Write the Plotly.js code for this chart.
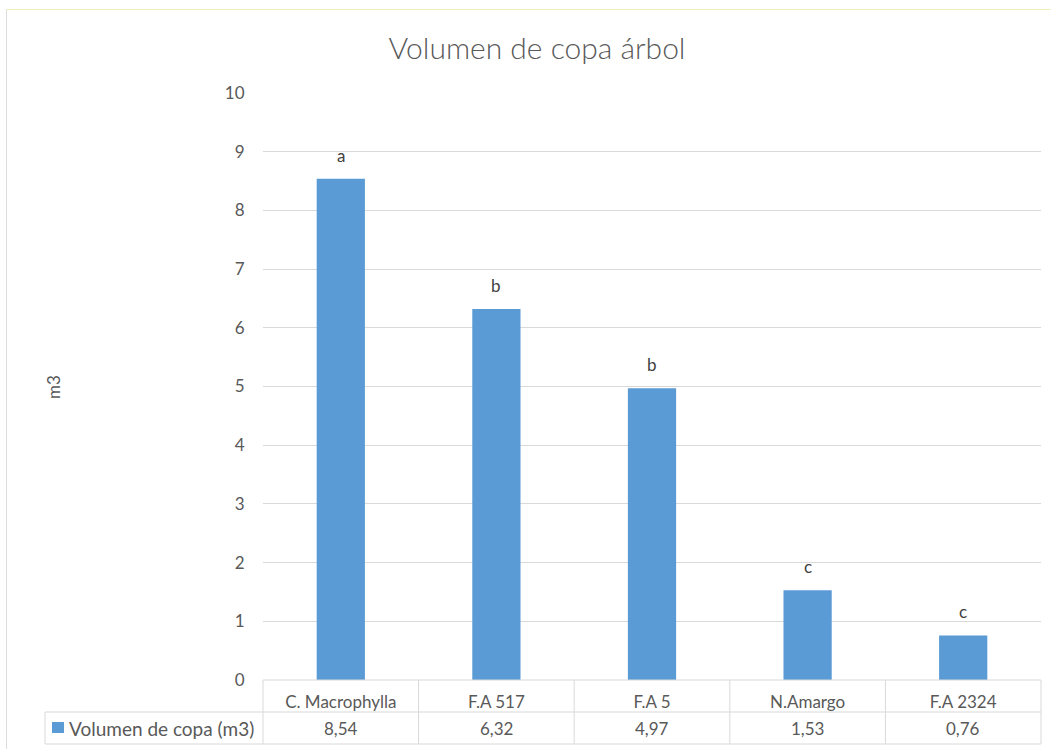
<!DOCTYPE html>
<html>
<head>
<meta charset="utf-8">
<script src="https://cdn.plot.ly/plotly-3.0.1.min.js"></script>
<style>
html,body{margin:0;padding:0;background:#fff;}
#chart{width:1051px;height:749px;}
</style>
</head>
<body>
<div id="chart"></div>
<script>
// ---- data ----
var categories = ["C. Macrophylla", "F.A 517", "F.A 5", "N.Amargo", "F.A 2324"];
var volumes = [8.54, 6.32, 4.97, 1.53, 0.76];
var valueLabels = ["8,54", "6,32", "4,97", "1,53", "0,76"];
var letters = ["a", "b", "b", "c", "c"];
var seriesName = "Volumen de copa (m3)";
var chartTitle = "Volumen de copa árbol";
var yTitle = "m3";
var yTicks = [0, 1, 2, 3, 4, 5, 6, 7, 8, 9, 10];

// ---- layout constants ----
var W = 1051, H = 749;
var mL = 263, mR = 10, mT = 93, mB = 69;
var plotW = W - mL - mR, plotH = H - mT - mB;
function px2paperX(px){ return (px - mL) / plotW; }
function px2paperY(py){ return (H - mB - py) / plotH; }

var FONT = "Lato, Carlito, Calibri, sans-serif";
var TXT = "#595959";
var GRID = "#d9d9d9";
var BAR = "#5b9bd5";

var trace = {
  type: "bar",
  x: categories,
  y: volumes,
  name: seriesName,
  marker: {color: BAR},
  width: 0.31,
  hoverinfo: "x+y"
};

var annotations = [];
// letters above bars
for (var i = 0; i < categories.length; i++) {
  annotations.push({
    x: categories[i], y: volumes[i], xref: "x", yref: "y",
    text: letters[i], showarrow: false, yanchor: "bottom", yshift: 11,
    font: {family: FONT, size: 17, color: "#404040"}
  });
}
// table value row
var rowTop = 712, rowBot = 744;
for (var j = 0; j < categories.length; j++) {
  annotations.push({
    x: categories[j], y: px2paperY((rowTop + rowBot) / 2), xref: "x", yref: "paper",
    text: valueLabels[j], showarrow: false, yanchor: "middle",
    font: {family: FONT, size: 17, color: TXT}
  });
}
// legend label in table
annotations.push({
  x: px2paperX(67), y: px2paperY((rowTop + rowBot) / 2), xref: "paper", yref: "paper",
  xanchor: "left", yanchor: "middle", showarrow: false,
  text: seriesName,
  font: {family: FONT, size: 19, color: TXT}
});
// y title
annotations.push({
  x: px2paperX(54), y: px2paperY(387), xref: "paper", yref: "paper",
  text: yTitle, textangle: -90, showarrow: false,
  xanchor: "center", yanchor: "middle",
  font: {family: FONT, size: 17, color: TXT}
});

var shapes = [];
function line(x0, y0, x1, y1, color) {
  shapes.push({type: "line", xref: "paper", yref: "paper",
    x0: px2paperX(x0), y0: px2paperY(y0), x1: px2paperX(x1), y1: px2paperY(y1),
    line: {color: color || GRID, width: 1}});
}
var xLeftTable = 45, xPlotL = mL, xPlotR = W - mR, yHead = H - mB;
// horizontal table lines
line(xPlotL, yHead, xPlotR, yHead);
line(xLeftTable, rowTop, xPlotR, rowTop);
line(xLeftTable, rowBot, xPlotR, rowBot);
// vertical table lines
line(xLeftTable, rowTop, xLeftTable, rowBot);
for (var k = 0; k <= categories.length; k++) {
  var xp = xPlotL + k * plotW / categories.length;
  line(xp, yHead, xp, rowBot);
}
// legend key square
shapes.push({type: "rect", xref: "paper", yref: "paper",
  x0: px2paperX(52), x1: px2paperX(64), y0: px2paperY(733), y1: px2paperY(722),
  fillcolor: BAR, line: {width: 0}});
// outer chart border
line(6.5, 9.5, W, 9.5, "#efefb8");
line(6.5, 9.5, 6.5, H, "#dcdcd8");

var layout = {
  width: W, height: H,
  margin: {l: mL, r: mR, t: mT, b: mB, pad: 0},
  paper_bgcolor: "#ffffff",
  plot_bgcolor: "#ffffff",
  showlegend: false,
  title: {
    text: chartTitle,
    x: px2paperX(537), xref: "paper", xanchor: "center",
    y: 1 - 48 / H, yanchor: "middle",
    font: {family: FONT, size: 30, color: TXT, weight: 300}
  },
  xaxis: {
    type: "category",
    showgrid: false, zeroline: false, showline: false,
    ticks: "outside", ticklen: 7, tickcolor: "rgba(0,0,0,0)",
    tickfont: {family: FONT, size: 17, color: TXT},
    fixedrange: true
  },
  yaxis: {
    range: [0, 10],
    tickvals: yTicks,
    showgrid: true, gridcolor: GRID, gridwidth: 1,
    zeroline: false, showline: false,
    ticks: "outside", ticklen: 14, tickcolor: "rgba(0,0,0,0)",
    tickfont: {family: FONT, size: 17, color: TXT},
    fixedrange: true
  },
  annotations: annotations,
  shapes: shapes,
  font: {family: FONT, color: TXT}
};

Plotly.newPlot("chart", [trace], layout, {displayModeBar: false, staticPlot: true});
</script>
</body>
</html>
